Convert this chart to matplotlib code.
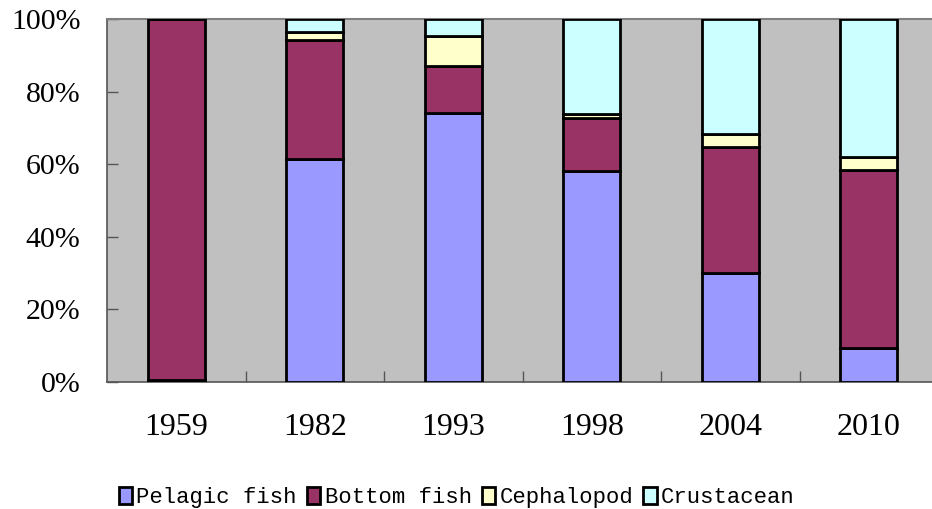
import matplotlib
matplotlib.use("Agg")
import matplotlib.pyplot as plt
import numpy as np

# Catch composition by year (%)
years = ["1959", "1982", "1993", "1998", "2004", "2010"]
pelagic = [0.5, 61.4, 74.1, 58.1, 30.0, 9.4]
bottom = [99.5, 32.8, 13.0, 14.6, 34.7, 49.0]
cephalopod = [0.0, 2.2, 8.2, 1.1, 3.6, 3.6]
crustacean = [0.0, 3.6, 4.7, 26.2, 31.7, 38.0]

series = [
    ("Pelagic fish", pelagic, "#9999FF"),
    ("Bottom fish", bottom, "#993366"),
    ("Cephalopod", cephalopod, "#FFFFCC"),
    ("Crustacean", crustacean, "#CCFFFF"),
]

fig = plt.figure(figsize=(9.32, 5.09), dpi=100)
ax = fig.add_axes([107 / 932, 127 / 509, 831 / 932, 363 / 509])
ax.set_facecolor("#C0C0C0")

x = np.arange(len(years))
base = np.zeros(len(years))
for name, vals, color in series:
    vals = np.array(vals)
    ax.bar(x, vals, 0.41, bottom=base, color=color, edgecolor="black",
           linewidth=2, label=name, zorder=3)
    base += vals

ax.set_xlim(-0.5, len(years) - 0.5)
ax.set_ylim(0, 100)
ax.set_yticks(np.arange(0, 101, 20))
ax.set_yticklabels([f"{v}%" for v in range(0, 101, 20)])
ax.set_xticks(x)
ax.set_xticklabels(years)
ax.set_xticks(np.arange(0.5, len(years) - 0.5, 1), minor=True)

for lab in ax.get_xticklabels():
    lab.set_fontfamily("Liberation Serif")
    lab.set_fontsize(23)
for lab in ax.get_yticklabels():
    lab.set_fontfamily("Liberation Serif")
    lab.set_fontsize(21.5)

ax.tick_params(axis="x", which="major", length=0, pad=22)
ax.tick_params(axis="x", which="minor", direction="in", length=8, width=1, color="#555555")
ax.tick_params(axis="y", direction="in", length=8, width=1, color="#555555", pad=19)

for side in ["left", "bottom"]:
    ax.spines[side].set_color("#555555")
    ax.spines[side].set_linewidth(1.2)
for side in ["top", "right"]:
    ax.spines[side].set_color("#808080")
    ax.spines[side].set_linewidth(1.5)

fig.legend(loc="center", bbox_to_anchor=(0.49, 0.022), ncol=4, frameon=False,
           prop={"family": "Liberation Mono", "size": 16},
           handlelength=0.6, handleheight=0.75, handletextpad=0.2,
           columnspacing=0.45, borderaxespad=0)

fig.savefig("out.png", dpi=100)
